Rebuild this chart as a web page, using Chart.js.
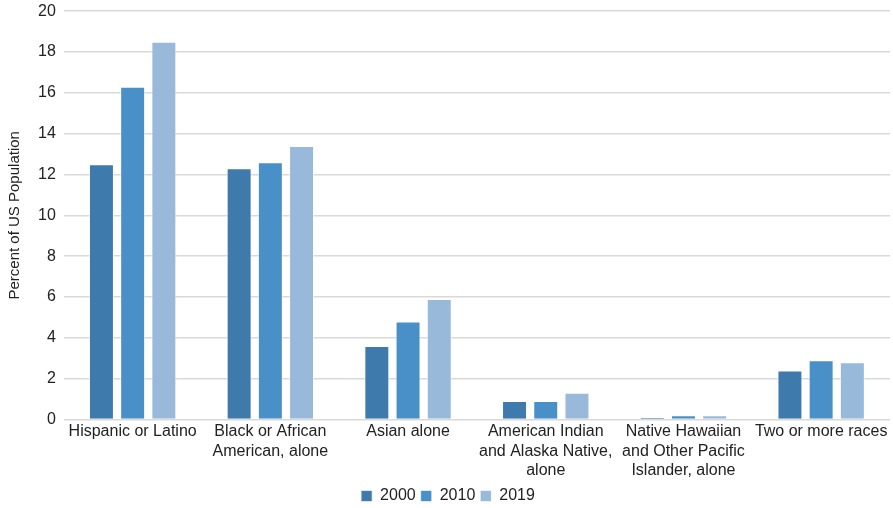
<!DOCTYPE html>
<html>
<head>
<meta charset="utf-8">
<script src="https://cdn.jsdelivr.net/npm/chart.js@4.4.1/dist/chart.umd.min.js"></script>
<style>
  html, body { margin: 0; padding: 0; background: #fff; }
  #wrap { width: 893px; height: 508px; }
</style>
</head>
<body>
<div id="wrap"><canvas id="popChart"></canvas></div>
<script>
// Share of US population by race / ethnicity
const categories = [
  'Hispanic or Latino',
  ['Black or African', 'American, alone'],
  'Asian alone',
  ['American Indian', 'and Alaska Native,', 'alone'],
  ['Native Hawaiian', 'and Other Pacific', 'Islander, alone'],
  'Two or more races'
];
const values2000 = [12.5, 12.3, 3.6, 0.9, 0.1, 2.4];
const values2010 = [16.3, 12.6, 4.8, 0.9, 0.2, 2.9];
const values2019 = [18.5, 13.4, 5.9, 1.3, 0.2, 2.8];
const yTicks = [0, 2, 4, 6, 8, 10, 12, 14, 16, 18, 20];

const font = 'Liberation Sans';
const ctx = document.getElementById('popChart').getContext('2d');
new Chart(ctx, {
  type: 'bar',
  data: {
    labels: categories,
    datasets: [
      { label: '2000', data: values2000, backgroundColor: '#3f7aad' },
      { label: '2010', data: values2010, backgroundColor: '#4a90c8' },
      { label: '2019', data: values2019, backgroundColor: '#99b9db' }
    ]
  },
  options: {
    responsive: true,
    maintainAspectRatio: false,
    animation: false,
    datasets: {
      bar: {
        barPercentage: 0.8,
        categoryPercentage: 0.68,
        borderWidth: 1,
        borderColor: 'rgba(255,255,255,0.6)'
      }
    },
    layout: { padding: { top: 2, right: 3, left: 6, bottom: -6 } },
    scales: {
      x: {
        grid: { display: false, drawTicks: false },
        border: { display: false },
        ticks: {
          color: '#222',
          font: { family: font, size: 16, lineHeight: 1.2 },
          maxRotation: 0,
          autoSkip: false,
          padding: 3
        }
      },
      y: {
        min: 0,
        max: 20,
        afterBuildTicks: axis => { axis.ticks = yTicks.map(v => ({ value: v })); },
        grid: { color: '#d9d9d9', lineWidth: 1.5, drawTicks: false },
        border: { display: false },
        ticks: {
          color: '#222',
          font: { family: font, size: 16, lineHeight: 0.4 },
          padding: 8
        },
        title: {
          display: true,
          text: 'Percent of US Population',
          color: '#222',
          font: { family: font, size: 15 },
          padding: { top: 0, bottom: 6 }
        }
      }
    },
    plugins: {
      legend: {
        position: 'bottom',
        labels: {
          color: '#222',
          font: { family: font, size: 16 },
          boxWidth: 11,
          boxHeight: 11,
          padding: 5
        }
      },
      tooltip: { enabled: false }
    }
  }
});
</script>
</body>
</html>
